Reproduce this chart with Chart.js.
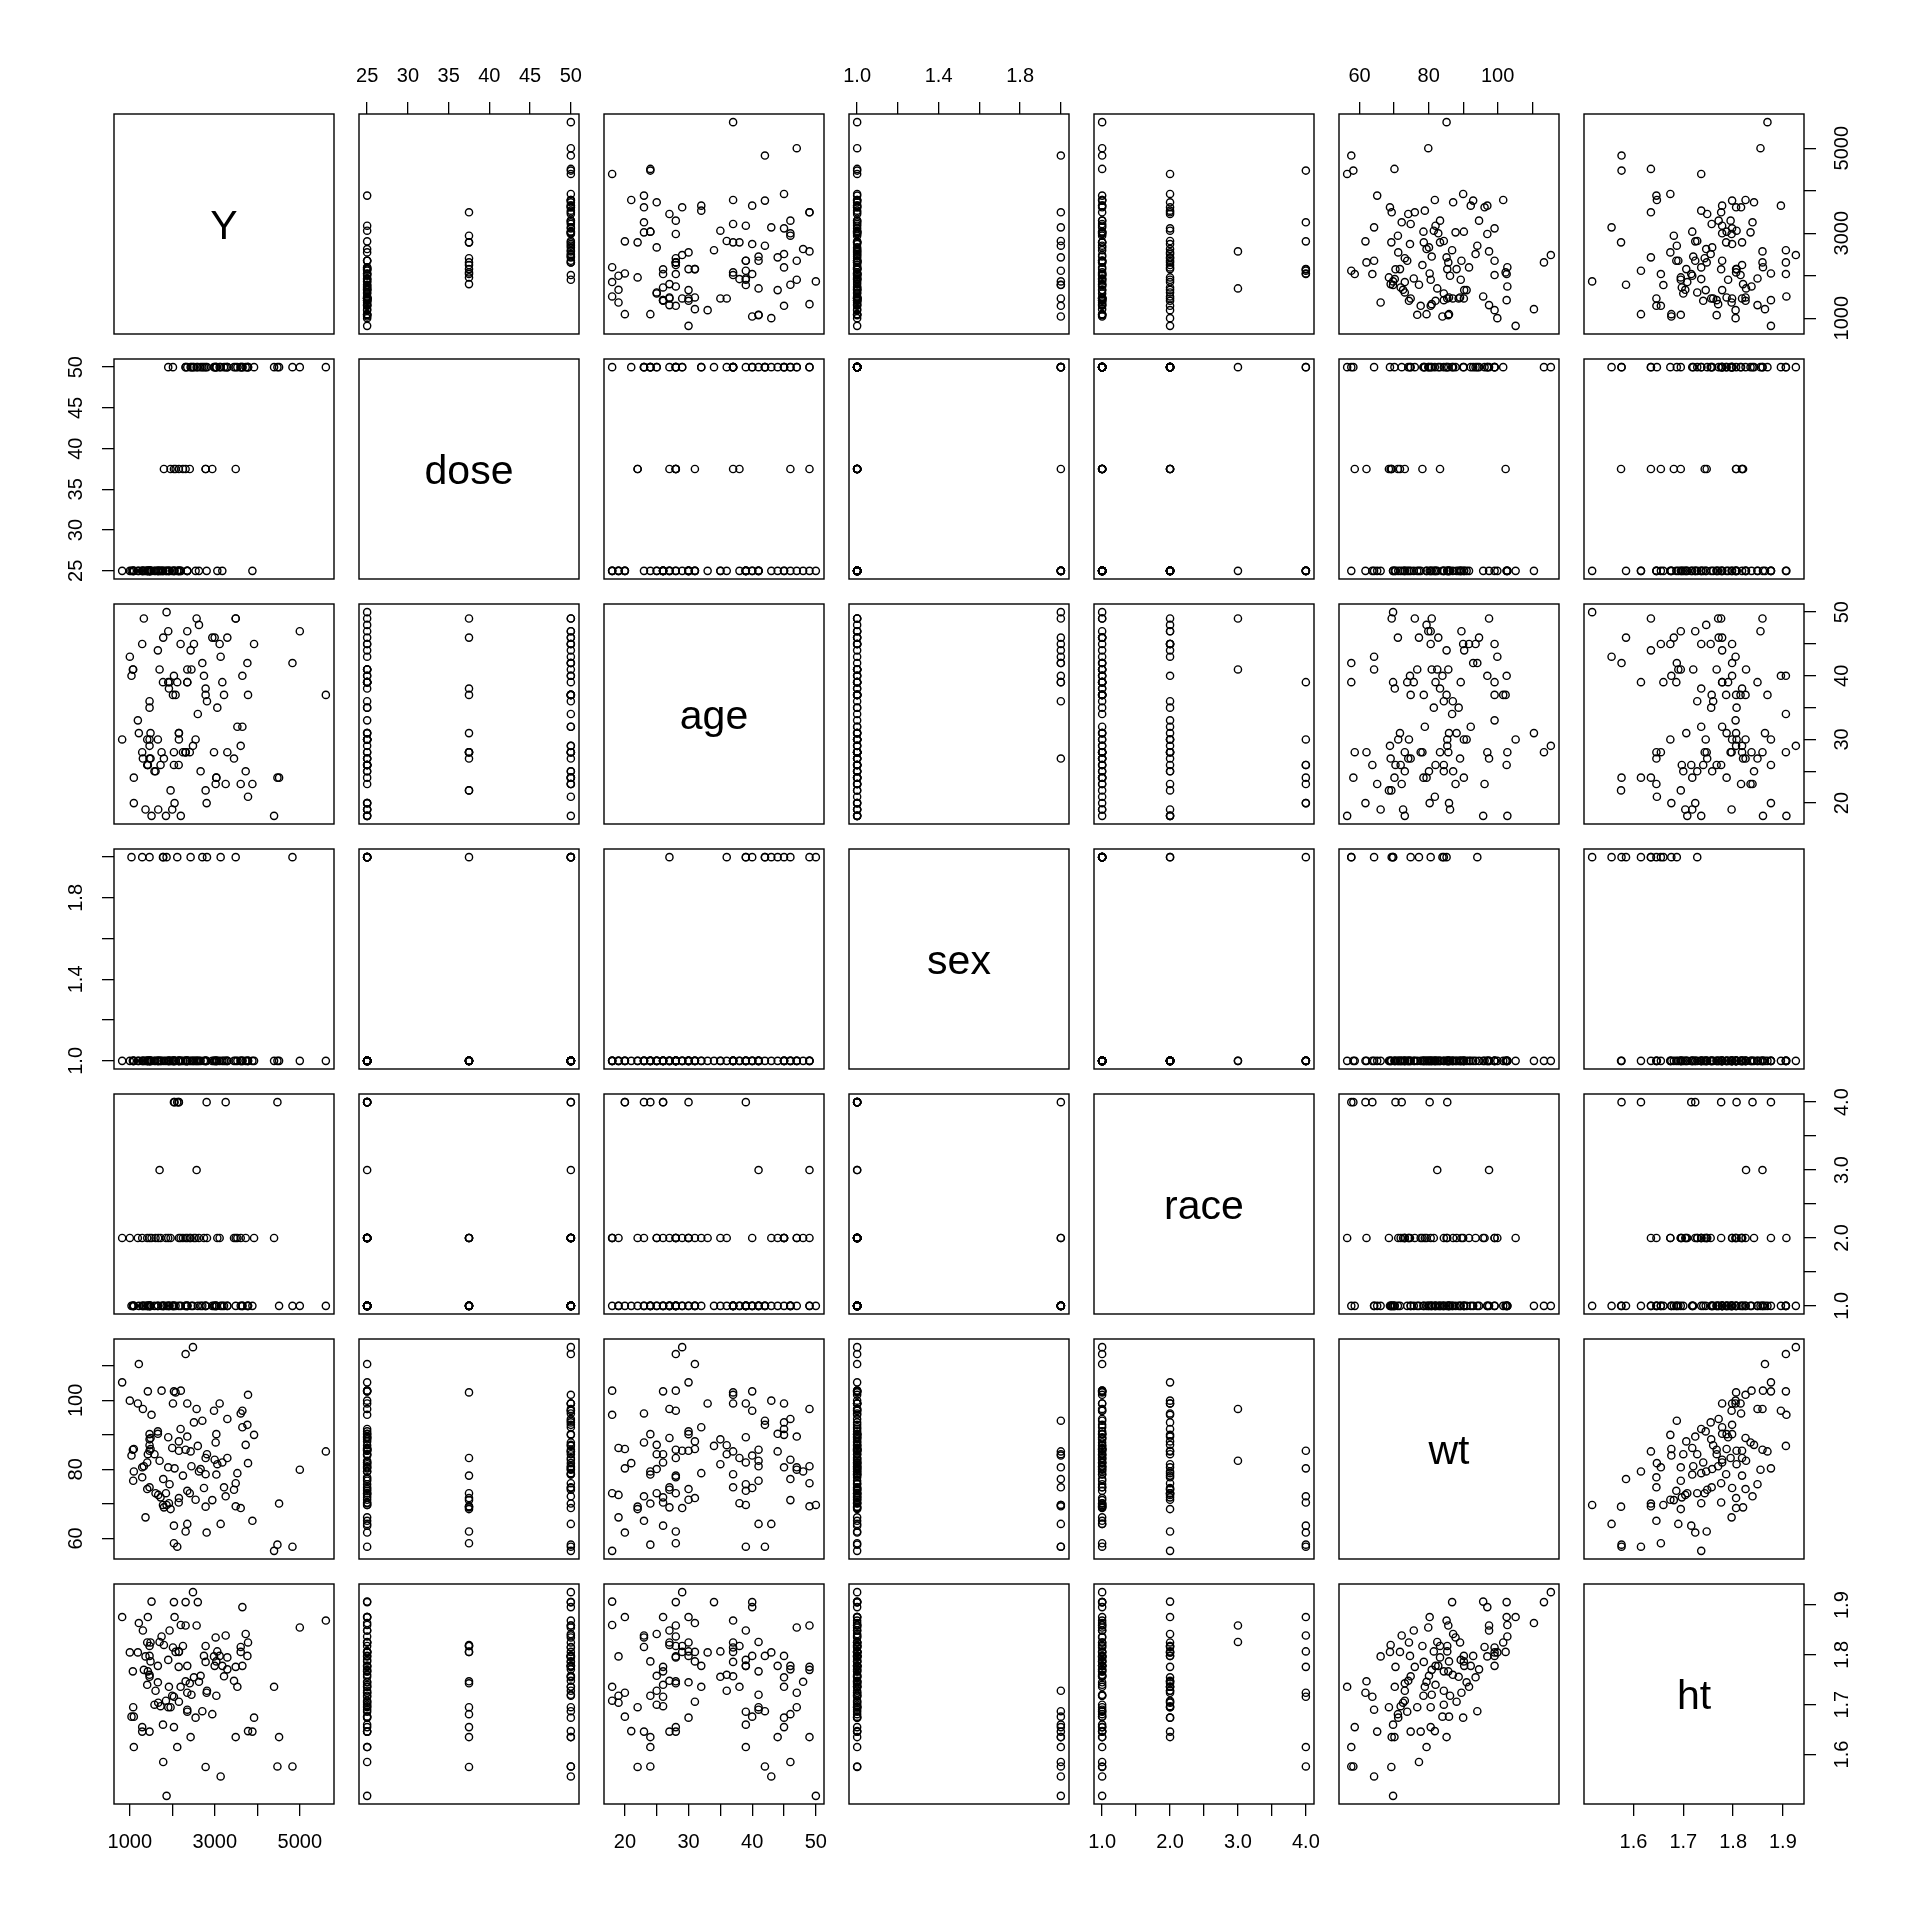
<!DOCTYPE html>
<html>
<head>
<meta charset="utf-8">
<title>pairs</title>
<script src="https://cdn.jsdelivr.net/npm/chart.js@4.4.1/dist/chart.umd.min.js"></script>
<style>
  html, body { margin: 0; padding: 0; background: #fff; }
  #wrap { position: relative; width: 1920px; height: 1920px; background: #fff; }
  #wrap canvas { position: absolute; }
</style>
</head>
<body>
<div id="wrap"></div>
<script>
// one value per subject, subjects ordered by weight
var Y = [4395,4828,2116,4474,2038,2808,2313,2038,3138,2352,
         3885,1369,1959,3610,1802,2784,3492,1865,1780,4513,
         1920,2150,2941,2548,2155,1723,3256,1668,2411,1605,
         1850,2352,3452,1409,2745,3217,1464,1935,3492,1079,
         1786,1291,2250,3036,2784,3531,2627,1094,5001,2666,
         2053,1904,1291,1330,2450,3059,3782,3177,1409,1700,
         2997,2784,3295,1039,2816,1424,1580,2431,5614,2155,
         1464,1071,2313,1487,1094,1998,2600,1464,3727,3020,
         2155,1464,1487,1904,2352,3924,1464,3036,1660,1660,
         2195,3649,3767,2509,2706,3295,1511,3610,3649,2981,
         2572,1307,3114,2352,2015,1189,1000,3782,2077,2038,
         1424,1747,2200,819,1212,2313,2486];
var dose = [50,50,25,50,37.5,25,37.5,25,50,25,
            25,25,37.5,50,37.5,37.5,37.5,25,25,50,
            25,25,37.5,25,37.5,25,50,25,37.5,25,
            25,25,50,25,50,50,25,25,50,25,
            25,25,37.5,50,50,50,25,25,50,50,
            25,50,25,25,50,25,50,25,25,25,
            50,37.5,50,25,50,25,25,50,50,25,
            25,25,50,25,25,25,50,25,50,50,
            25,25,25,25,25,50,25,50,25,25,
            25,50,50,50,50,50,25,50,50,50,
            50,25,50,50,50,25,25,50,37.5,25,
            25,25,25,25,25,50,50];
var age = [18,42,39,24,28,20,28,26,43,41,
           23,19,22,29,27,22,49,50,39,24,
           38,26,46,30,31,26,23,19,28,25,
           18,39,27,30,40,37,27,39,49,41,
           46,28,28,24,37,32,48,24,47,25,
           20,47,45,49,41,35,21,39,26,41,
           46,38,28,40,36,26,25,44,37,30,
           29,41,28,31,20,19,34,36,25,23,
           31,35,27,39,47,45,30,24,44,30,
           45,32,42,45,42,46,18,23,40,28,
           49,27,45,39,37,33,43,37,37,40,
           26,28,18,30,31,28,29];
var sex = [1,2,2,1,1,1,1,1,2,1,
           1,1,1,1,1,1,2,2,2,1,
           1,1,1,1,1,1,1,1,1,1,
           1,1,1,1,1,1,2,1,1,1,
           2,1,1,1,1,1,1,1,1,1,
           1,1,2,1,1,1,1,1,1,1,
           1,1,1,2,2,1,1,2,1,1,
           1,1,1,1,1,1,1,1,1,1,
           1,1,1,1,1,1,1,1,1,1,
           1,1,1,1,2,1,1,1,1,1,
           1,1,1,1,1,1,1,1,1,1,
           1,1,1,1,1,1,1];
var race = [2,1,4,4,1,4,2,4,1,1,
            1,1,2,1,1,1,1,1,1,1,
            1,4,1,2,1,2,4,2,2,2,
            2,1,2,2,2,1,1,1,2,1,
            1,2,2,1,1,2,2,1,1,1,
            4,2,1,1,1,2,1,1,1,3,
            1,1,1,1,2,1,1,2,1,4,
            2,1,1,1,1,1,1,1,2,1,
            2,1,1,1,2,2,1,1,1,1,
            2,1,1,2,1,1,2,2,1,1,
            3,1,2,1,1,2,2,1,1,1,
            1,1,1,2,1,1,1];
var wt = [56.4,57.6,57.6,58.2,58.6,61.7,62.0,63.7,64.2,64.2,
          65.1,66.1,68.5,68.8,69.0,69.2,69.3,69.7,69.7,70.1,
          70.2,70.4,71.1,71.2,71.7,71.9,72.2,72.6,73.1,73.1,
          73.1,73.8,74.1,74.3,74.6,74.8,74.8,75.7,76.0,76.7,
          77.2,77.7,78.2,78.5,78.6,78.9,79.4,79.4,79.9,80.1,
          80.3,80.6,80.6,80.9,80.9,81.5,81.8,82.0,82.0,82.5,
          82.8,83.3,83.3,84.0,84.4,84.4,84.4,85.2,85.2,85.4,
          85.4,85.7,85.7,85.9,85.9,86.2,86.8,87.0,87.1,87.8,
          88.1,88.7,89.1,89.3,89.5,90.0,90.2,90.2,90.3,91.0,
          91.7,92.2,92.9,93.6,94.1,94.6,95.8,96.2,97.0,97.0,
          97.5,97.5,99.1,99.1,99.1,99.1,99.9,101.6,102.3,102.6,
          102.6,102.8,102.8,105.2,110.5,113.4,115.4];
var ht = [1.736,1.576,1.615,1.576,1.655,1.724,1.747,1.716,1.556,1.690,
          1.646,1.797,1.695,1.806,1.820,1.575,1.635,1.517,1.660,1.635,
          1.736,1.776,1.681,1.674,1.806,1.697,1.839,1.704,1.743,1.728,
          1.708,1.686,1.748,1.825,1.798,1.757,1.646,1.849,1.776,1.695,
          1.585,1.646,1.818,1.718,1.786,1.736,1.746,1.615,1.855,1.758,
          1.876,1.695,1.655,1.770,1.720,1.807,1.647,1.778,1.740,1.826,
          1.778,1.818,1.795,1.676,1.728,1.767,1.700,1.635,1.869,1.807,
          1.818,1.767,1.859,1.787,1.676,1.718,1.906,1.760,1.842,1.835,
          1.706,1.756,1.825,1.790,1.724,1.674,1.798,1.787,1.778,1.745,
          1.736,1.778,1.798,1.755,1.687,1.771,1.907,1.816,1.896,1.797,
          1.859,1.849,1.798,1.778,1.815,1.805,1.805,1.825,1.806,1.906,
          1.876,1.837,1.860,1.876,1.864,1.906,1.926];

var varNames = ['Y', 'dose', 'age', 'sex', 'race', 'wt', 'ht'];
var varData = [Y, dose, age, sex, race, wt, ht];

// tick marks, and the labels R keeps (overlapping ones are dropped)
var tickVals = [
  [1000, 2000, 3000, 4000, 5000],
  [25, 30, 35, 40, 45, 50],
  [20, 25, 30, 35, 40, 45, 50],
  [1.0, 1.2, 1.4, 1.6, 1.8, 2.0],
  [1.0, 1.5, 2.0, 2.5, 3.0, 3.5, 4.0],
  [60, 70, 80, 90, 100, 110],
  [1.6, 1.7, 1.8, 1.9]
];
var tickText = [
  ['1000', '', '3000', '', '5000'],
  ['25', '30', '35', '40', '45', '50'],
  ['20', '', '30', '', '40', '', '50'],
  ['1.0', '', '1.4', '', '1.8', ''],
  ['1.0', '', '2.0', '', '3.0', '', '4.0'],
  ['60', '', '80', '', '100', ''],
  ['1.6', '1.7', '1.8', '1.9']
];

var FONT = '"Liberation Sans", Arial, sans-serif';
var M = 70, X0 = 114, STEP = 245, SIZE = 220;
var wrap = document.getElementById('wrap');

var measure = document.createElement('canvas').getContext('2d');
measure.font = '20px ' + FONT;
function widest(labels) {
  var w = 0;
  labels.forEach(function(t) { w = Math.max(w, measure.measureText(t).width); });
  return w;
}

// R pads each range by 4% on both sides
function range(a) {
  var lo = Math.min.apply(null, a), hi = Math.max.apply(null, a);
  var d = (hi - lo) * 0.04;
  return [lo - d, hi + d];
}
var ranges = varData.map(range);

// box round every panel, and the variable name on the diagonal
var panelBox = {
  id: 'panelBox',
  afterDraw: function(chart, args, opts) {
    var a = chart.chartArea, ctx = chart.ctx;
    ctx.save();
    ctx.strokeStyle = '#000';
    ctx.lineWidth = 1.4;
    ctx.strokeRect(a.left, a.top, a.right - a.left, a.bottom - a.top);
    if (opts.text) {
      ctx.font = opts.size + 'px ' + FONT;
      ctx.fillStyle = '#000';
      ctx.textAlign = 'center';
      ctx.textBaseline = 'alphabetic';
      ctx.fillText(opts.text, (a.left + a.right) / 2, (a.top + a.bottom) / 2 + opts.size * 0.358);
    }
    ctx.restore();
  }
};

function axis(k, pos, show, vertical) {
  var o = {
    type: 'linear',
    position: pos,
    min: ranges[k][0],
    max: ranges[k][1],
    afterBuildTicks: function(s) {
      s.ticks = tickVals[k].map(function(v) { return { value: v }; });
    },
    afterFit: function(s) {
      if (vertical) s.width = M; else s.height = M;
    },
    grid: { display: show, drawOnChartArea: false, drawTicks: true, tickLength: 12, color: '#000', lineWidth: 1.3 },
    border: { display: false },
    ticks: {
      display: show,
      autoSkip: false,
      color: '#000',
      font: { family: FONT, size: 20 },
      callback: function(v, i) { return tickText[k][i]; }
    }
  };
  if (vertical) {
    o.ticks.minRotation = 90;
    o.ticks.maxRotation = 90;
    o.ticks.crossAlign = 'center';
    o.ticks.padding = 26 - widest(tickText[k]) / 2;
  } else {
    o.ticks.maxRotation = 0;
    o.ticks.padding = 14;
  }
  return o;
}

for (var r = 0; r < 7; r++) {
  for (var c = 0; c < 7; c++) {
    var xPos = c % 2 === 1 ? 'top' : 'bottom';
    var yPos = r % 2 === 1 ? 'left' : 'right';
    var showX = (xPos === 'top' && r === 0) || (xPos === 'bottom' && r === 6);
    var showY = (yPos === 'left' && c === 0) || (yPos === 'right' && c === 6);

    var cv = document.createElement('canvas');
    cv.width = SIZE + 2 * M;
    cv.height = SIZE + 2 * M;
    cv.style.left = (X0 + c * STEP - M) + 'px';
    cv.style.top = (X0 + r * STEP - M) + 'px';
    wrap.appendChild(cv);

    var datasets = [];
    if (r !== c) {
      var xs = varData[c], ys = varData[r];
      var pts = xs.map(function(v, i) { return { x: v, y: ys[i] }; });
      datasets.push({
        data: pts,
        pointStyle: 'circle',
        pointRadius: 3.6,
        pointHoverRadius: 3.6,
        pointBorderWidth: 1.4,
        pointBorderColor: '#000',
        pointBackgroundColor: 'rgba(0,0,0,0)'
      });
    }

    new Chart(cv, {
      type: 'scatter',
      data: { datasets: datasets },
      options: {
        responsive: false,
        animation: false,
        events: [],
        layout: {
          padding: {
            top: xPos === 'top' ? 0 : M,
            bottom: xPos === 'bottom' ? 0 : M,
            left: yPos === 'left' ? 0 : M,
            right: yPos === 'right' ? 0 : M
          }
        },
        plugins: {
          legend: { display: false },
          tooltip: { enabled: false },
          panelBox: { text: r === c ? varNames[r] : '', size: 41 }
        },
        scales: {
          x: axis(c, xPos, showX, false),
          y: axis(r, yPos, showY, true)
        }
      },
      plugins: [panelBox]
    });
  }
}
</script>
</body>
</html>
